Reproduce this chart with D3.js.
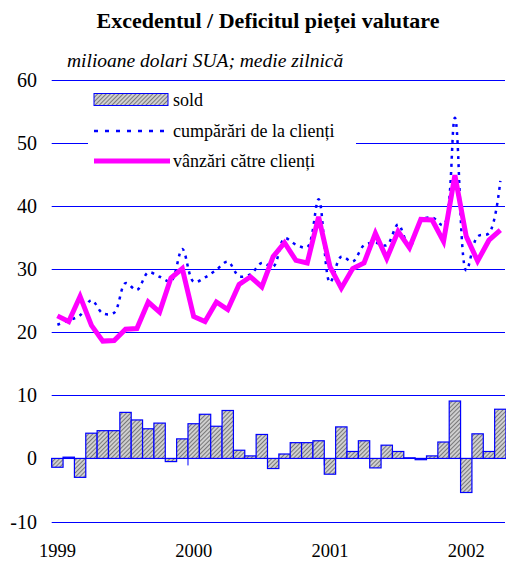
<!DOCTYPE html>
<html>
<head>
<meta charset="utf-8">
<script src="https://cdn.jsdelivr.net/npm/d3@7"></script>
<style>
  body { margin: 0; background: #fff; }
</style>
</head>
<body>
<script>
// months Jan 1999 .. Apr 2002
var months = [];
[1999, 2000, 2001, 2002].forEach(function (yr) {
  for (var m = 1; m <= 12; m++) {
    if (yr === 2002 && m > 4) break;
    months.push(yr + "-" + (m < 10 ? "0" + m : m));
  }
});

// sold (bars)
var sold = [-1.4, 0.2, -3.0, 4.0, 4.4, 4.4, 7.3, 6.1, 4.7, 5.6, -0.5, 3.1,
            5.5, 7.0, 5.1, 7.6, 1.3, 0.4, 3.8, -1.6, 0.7, 2.5, 2.5, 2.8,
            -2.5, 5.0, 1.1, 2.8, -1.5, 2.1, 1.1, 0.1, -0.2, 0.4, 2.6, 9.1,
            -5.4, 3.9, 1.1, 7.8];

// cumparari de la clienti (dotted)
var cumparari = [21.2, 21.9, 22.7, 25.1, 23.0, 23.1, 27.8, 26.7, 29.5, 28.8, 28.1, 33.2,
                 28.0, 28.7, 29.9, 31.2, 28.9, 29.2, 31.0, 30.4, 34.9, 33.9, 33.5, 41.1,
                 27.9, 32.0, 31.2, 33.8, 34.2, 33.8, 37.1, 33.5, 37.7, 38.2, 37.0, 54.0,
                 29.8, 35.2, 35.7, 44.0];

// vanzari catre clienti (magenta)
var vanzari = [22.6, 21.7, 25.7, 21.1, 18.6, 18.7, 20.5, 20.6, 24.8, 23.2, 28.6, 30.1,
               22.5, 21.7, 24.8, 23.6, 27.6, 28.8, 27.2, 32.0, 34.2, 31.4, 31.0, 38.3,
               30.4, 27.0, 30.1, 31.0, 35.7, 31.7, 36.0, 33.4, 37.9, 37.8, 34.4, 44.9,
               35.2, 31.3, 34.6, 36.2];

var yTicks = [60, 50, 40, 30, 20, 10, 0, -10];
var yearLabels = ["1999", "2000", "2001", "2002"];

var W = 506, H = 562;
var svg = d3.select("body").append("svg").attr("width", W).attr("height", H);

function label(sel) {
  return sel.style("font-family", "Liberation Serif").style("fill", "#000");
}

var defs = svg.append("defs");
var pat = defs.append("pattern")
  .attr("id", "hatch")
  .attr("patternUnits", "userSpaceOnUse")
  .attr("width", 3).attr("height", 3)
  .attr("patternTransform", "rotate(45)");
pat.append("rect").attr("width", 3).attr("height", 3).attr("fill", "#cfcfcf");
pat.append("line").attr("x1", 0).attr("y1", 0).attr("x2", 0).attr("y2", 3)
  .attr("stroke", "#4a4a4a").attr("stroke-width", 1.3);

var x = d3.scaleBand().domain(months).range([51.7, 506]).padding(0);
var y = d3.scaleLinear().domain([-10, 60]).range([521.5, 80]);

// title
svg.append("text").attr("x", 268).attr("y", 28).attr("text-anchor", "middle")
  .style("font-weight", "bold").style("font-size", "22px")
  .call(label)
  .text("Excedentul / Deficitul pieței valutare");
svg.append("text").attr("x", 67).attr("y", 67).style("font-style", "italic")
  .style("font-size", "19.5px").call(label)
  .text("milioane dolari SUA; medie zilnică");

// gridlines
svg.selectAll(".grid").data(yTicks).enter().append("line")
  .attr("x1", 51.7).attr("x2", 505)
  .attr("y1", function (d) { return Math.round(y(d)) + 0.5; })
  .attr("y2", function (d) { return Math.round(y(d)) + 0.5; })
  .attr("stroke", "#0000ff").attr("stroke-width", 1);

svg.selectAll(".ylab").data(yTicks).enter().append("text")
  .attr("x", 37).attr("y", function (d) { return y(d) + 7; })
  .attr("text-anchor", "end").style("font-size", "20px")
  .call(label)
  .text(function (d) { return d; });

// bars
svg.selectAll(".bar").data(sold).enter().append("rect")
  .attr("x", function (d, i) { return x(months[i]); })
  .attr("width", x.bandwidth())
  .attr("y", function (d) { return y(Math.max(0, d)); })
  .attr("height", function (d) { return Math.abs(y(d) - y(0)); })
  .attr("fill", "url(#hatch)")
  .attr("stroke", "#0000ff").attr("stroke-width", 1.2);

// year ticks
yearLabels.forEach(function (yr) {
  var xp = x(yr + "-01");
  svg.append("line").attr("x1", xp).attr("x2", xp)
    .attr("y1", y(0)).attr("y2", y(0) + 7)
    .attr("stroke", "#0000ff").attr("stroke-width", 1);
  svg.append("text").attr("x", xp + x.bandwidth() / 2).attr("y", 557)
    .attr("text-anchor", "middle").style("font-size", "18.5px")
    .call(label).text(yr);
});

var cx = function (d, i) { return x(months[i]) + x.bandwidth() / 2; };

svg.append("path").datum(cumparari)
  .attr("d", d3.line().x(cx).y(function (d) { return y(d); }).curve(d3.curveCatmullRom.alpha(0.5)))
  .attr("fill", "none").attr("stroke", "#0000ff").attr("stroke-width", 2.5)
  .attr("stroke-dasharray", "3,5");

svg.append("path").datum(vanzari)
  .attr("d", d3.line().x(cx).y(function (d) { return y(d); }))
  .attr("fill", "none").attr("stroke", "#ff00ff").attr("stroke-width", 5)
  .attr("stroke-linejoin", "miter");

// legend
var lg = svg.append("g");
lg.append("rect").attr("x", 88).attr("y", 84).attr("width", 268).attr("height", 92).attr("fill", "#fff");
lg.append("rect").attr("x", 94).attr("y", 93.5).attr("width", 74).attr("height", 12)
  .attr("fill", "url(#hatch)").attr("stroke", "#0000ff").attr("stroke-width", 1);
lg.append("text").attr("x", 173).attr("y", 106).style("font-size", "18px").call(label).text("sold");
lg.append("line").attr("x1", 94).attr("x2", 170).attr("y1", 131).attr("y2", 131)
  .attr("stroke", "#0000ff").attr("stroke-width", 2.5).attr("stroke-dasharray", "4,7");
lg.append("text").attr("x", 173).attr("y", 137).style("font-size", "18px").call(label).text("cumpărări de la clienți");
lg.append("line").attr("x1", 94).attr("x2", 170).attr("y1", 161).attr("y2", 161)
  .attr("stroke", "#ff00ff").attr("stroke-width", 5);
lg.append("text").attr("x", 173).attr("y", 167).style("font-size", "18px").call(label).text("vânzări către clienți");
</script>
</body>
</html>
